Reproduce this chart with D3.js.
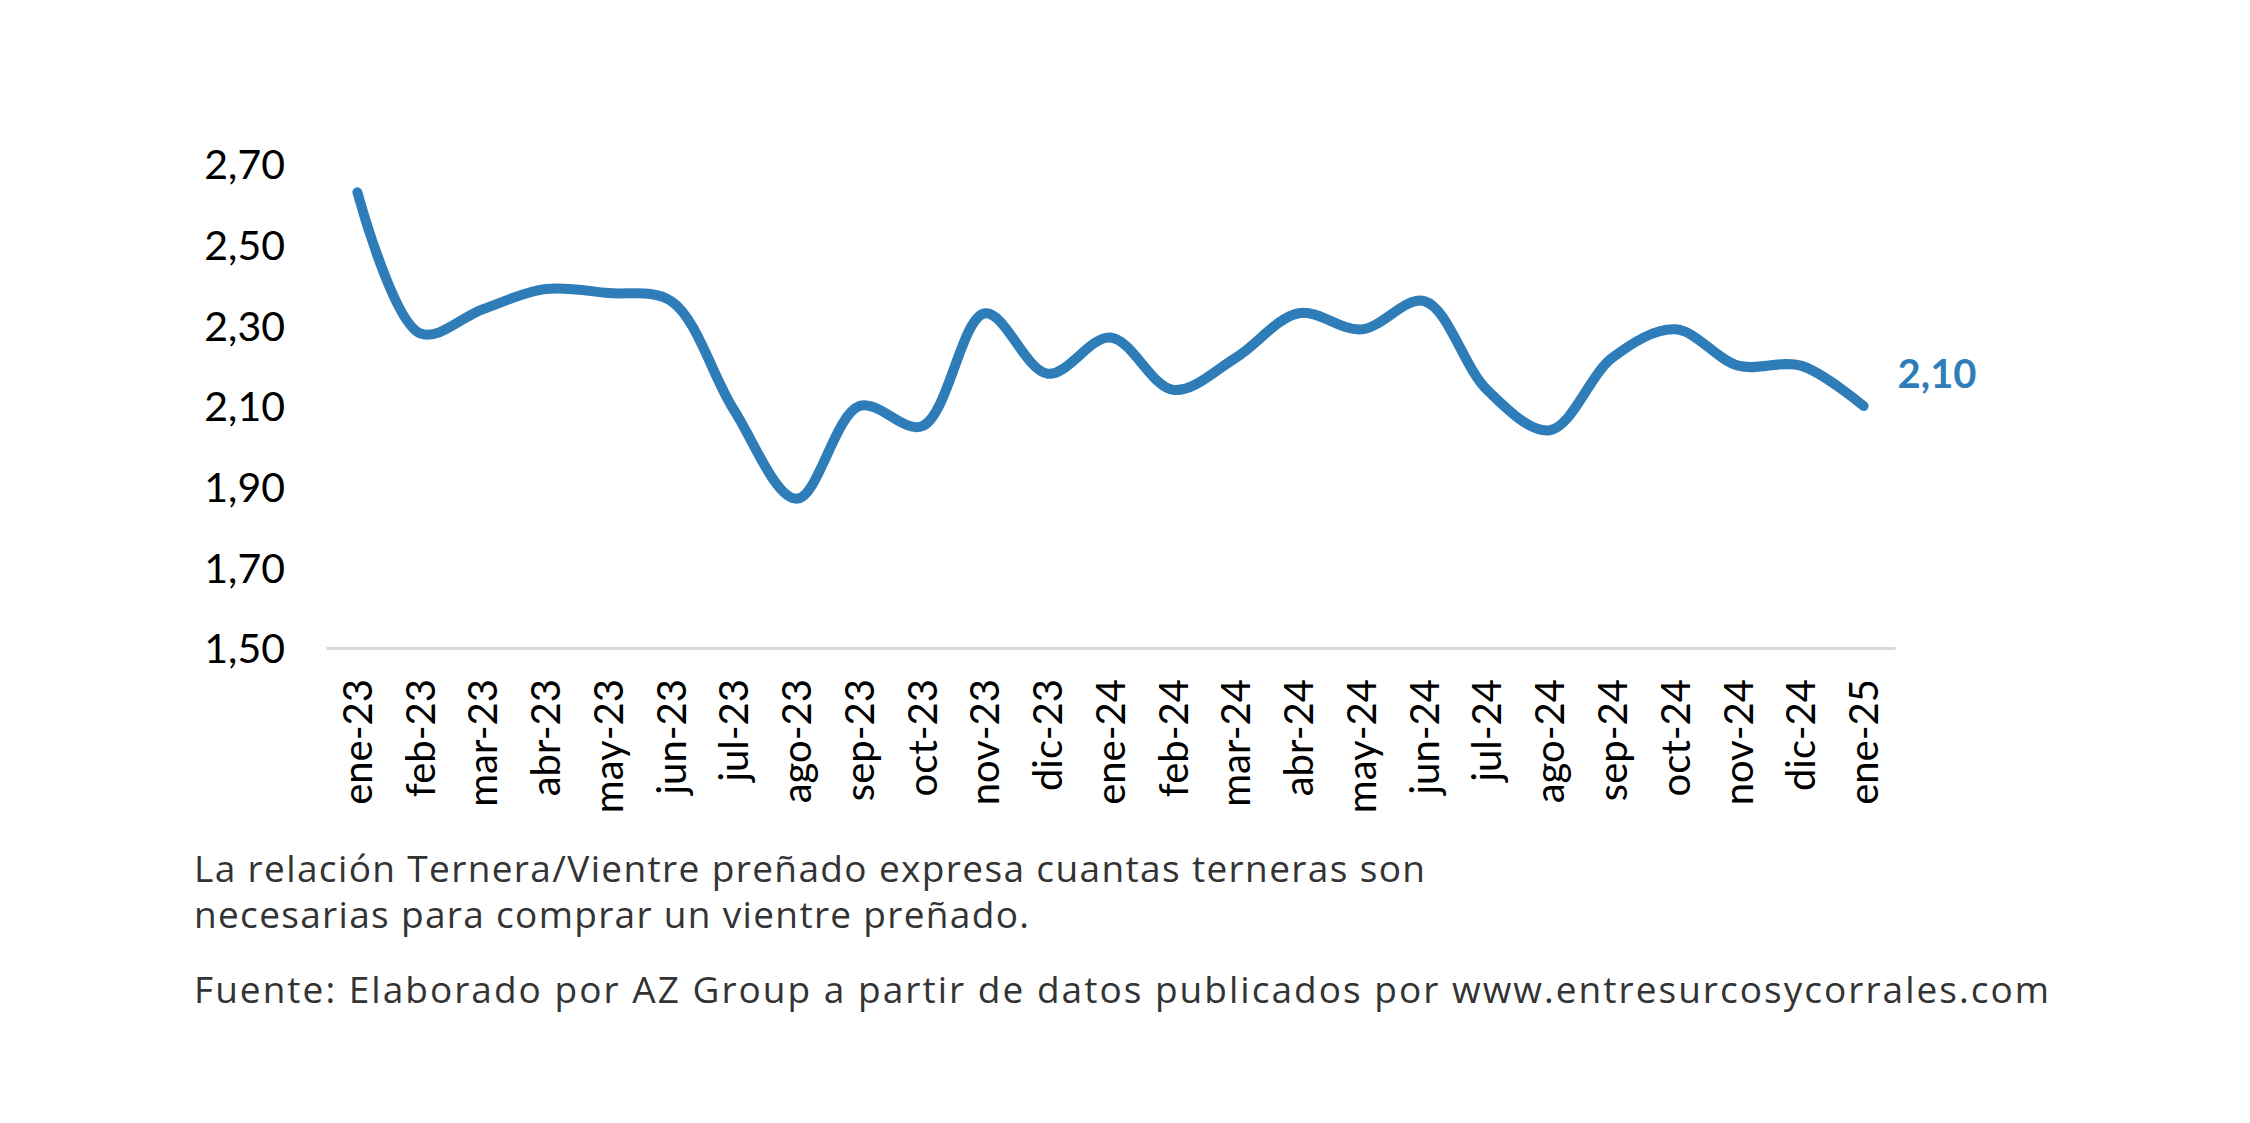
<!DOCTYPE html>
<html>
<head>
<meta charset="utf-8">
<script src="https://cdn.jsdelivr.net/npm/d3@7"></script>
<style>
  html, body { margin: 0; padding: 0; background: #ffffff; }
  svg { display: block; }
</style>
</head>
<body>
<svg id="chart" width="2250" height="1123"></svg>
<script>
const months = ["ene-23","feb-23","mar-23","abr-23","may-23","jun-23","jul-23","ago-23","sep-23","oct-23","nov-23","dic-23",
                "ene-24","feb-24","mar-24","abr-24","may-24","jun-24","jul-24","ago-24","sep-24","oct-24","nov-24","dic-24","ene-25"];
const ratio = [2.63,2.28,2.34,2.39,2.38,2.36,2.09,1.87,2.10,2.05,2.33,2.18,
               2.27,2.14,2.22,2.33,2.29,2.36,2.14,2.04,2.22,2.29,2.20,2.20,2.10];
const yTicks = [1.50,1.70,1.90,2.10,2.30,2.50,2.70];
const noteLines = [
  "La relación Ternera/Vientre preñado expresa cuantas terneras son",
  "necesarias para comprar un vientre preñado."
];
const sourceLine = "Fuente: Elaborado por AZ Group a partir de datos publicados por www.entresurcosycorrales.com";

const svg = d3.select("#chart");
svg.append("rect").attr("width",2250).attr("height",1123).attr("fill","#ffffff");

const fmt = v => d3.format(".2f")(v).replace(".", ",");
const lineColor = "#2E7DB9";
const tickFont = "Lato, 'Noto Sans', 'DejaVu Sans', sans-serif";

const x = d3.scaleBand().domain(months).range([326, 1895]).padding(0);
const y = d3.scaleLinear().domain([1.5, 2.7]).range([648, 164]);
const cx = m => x(m) + x.bandwidth() / 2;

// Y axis
const yAxis = svg.append("g")
  .attr("transform", "translate(326,0)")
  .call(d3.axisLeft(y).tickValues(yTicks).tickSize(0).tickPadding(41).tickFormat(fmt));
yAxis.select(".domain").remove();
yAxis.selectAll("text")
  .attr("dy", "0.36em")
  .style("font-family", tickFont)
  .style("font-size", "41px")
  .style("fill", "#000");

// X axis
const xAxis = svg.append("g")
  .attr("transform", "translate(0,648)")
  .call(d3.axisBottom(x).tickSize(0).tickSizeOuter(0));
xAxis.select(".domain").attr("stroke", "#d9d9d9").attr("stroke-width", 3);
xAxis.selectAll("text")
  .attr("transform", "rotate(-90)")
  .attr("x", -31)
  .attr("y", 0)
  .attr("dy", "0.36em")
  .style("text-anchor", "end")
  .style("font-family", tickFont)
  .style("font-size", "40px")
  .style("fill", "#000");

// Line
const data = months.map((m, i) => ({m, v: ratio[i]}));
const line = d3.line()
  .x(d => cx(d.m))
  .y(d => y(d.v))
  .curve(d3.curveCatmullRom.alpha(0.5));
svg.append("path")
  .datum(data)
  .attr("d", line)
  .attr("fill", "none")
  .attr("stroke", lineColor)
  .attr("stroke-width", 10)
  .attr("stroke-linecap", "round")
  .attr("stroke-linejoin", "round");

// Last value label
const last = data[data.length - 1];
svg.append("text")
  .attr("x", cx(last.m) + 34)
  .attr("y", y(last.v) - 32)
  .attr("dy", "0.36em")
  .style("font-family", tickFont)
  .style("font-weight", "bold")
  .style("font-size", "40px")
  .style("fill", lineColor)
  .text(fmt(last.v));

// Notes
const noteFont = "'Open Sans', 'Noto Sans', sans-serif";
const noteY = [882, 928];
const noteW = [1231, 835];
noteLines.forEach((t, i) => {
  svg.append("text")
    .attr("x", 194).attr("y", noteY[i])
    .attr("textLength", noteW[i]).attr("lengthAdjust", "spacing")
    .style("font-family", noteFont).style("font-size", "37px").style("fill", "#333")
    .text(t);
});
svg.append("text")
  .attr("x", 194).attr("y", 1003)
  .attr("textLength", 1855).attr("lengthAdjust", "spacing")
  .style("font-family", noteFont).style("font-size", "37px").style("fill", "#333")
  .text(sourceLine);
</script>
</body>
</html>
